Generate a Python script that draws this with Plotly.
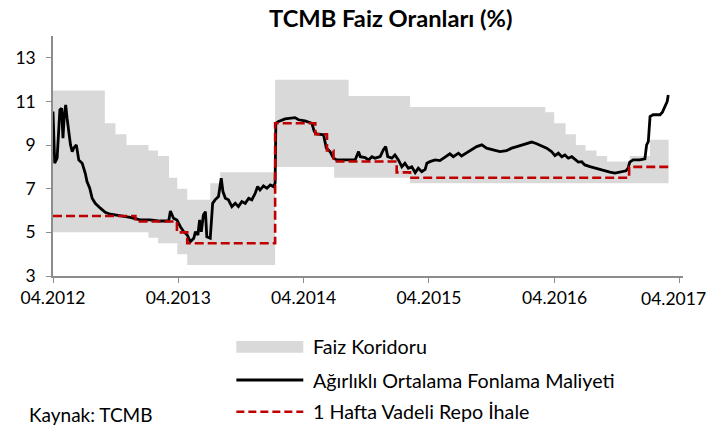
import plotly.graph_objects as go

# ---------------- DATA ----------------
# Faiz koridoru: step-change dates with upper (borrowing/lending) bounds
corr_dates = ["2012-04-01", "2012-08-30", "2012-09-30", "2012-11-01", "2013-01-04",
              "2013-02-01", "2013-03-05", "2013-03-29", "2013-04-27", "2013-07-03",
              "2013-08-01", "2014-01-08", "2014-06-29", "2014-08-10", "2015-02-05",
              "2016-03-05", "2016-03-31", "2016-05-03", "2016-06-02", "2016-06-30",
              "2016-08-01", "2016-09-01", "2016-11-06", "2017-01-04", "2017-02-27"]
corr_upper = [11.5, 10.0, 9.5, 9.0, 8.75,
              8.5, 7.5, 7.0, 6.5, 7.25,
              7.75, 12.0, 12.0, 11.25, 10.75,
              10.5, 10.0, 9.5, 9.0, 8.75,
              8.5, 8.25, 8.5, 9.25, 9.25]
corr_lower = [5.0, 5.0, 5.0, 5.0, 4.75,
              4.5, 4.5, 4.0, 3.5, 3.5,
              3.5, 8.0, 7.5, 7.5, 7.25,
              7.25, 7.25, 7.25, 7.25, 7.25,
              7.25, 7.25, 7.25, 7.25, 7.25]

# 1 Hafta Vadeli Repo İhale
repo_dates = ["2012-04-01", "2012-11-27", "2013-03-28", "2013-04-27", "2014-01-08",
              "2014-05-05", "2014-06-08", "2014-06-27", "2014-12-28", "2015-02-05",
              "2016-11-04", "2017-02-27"]
repo_vals = [5.75, 5.5, 5.0, 4.5, 10.0, 9.5, 8.75, 8.25, 7.75, 7.5, 8.0, 8.0]

# Ağırlıklı Ortalama Fonlama Maliyeti
aofm_dates = ["2012-04-01", "2012-04-06", "2012-04-13", "2012-04-21", "2012-04-26",
              "2012-04-30", "2012-05-04", "2012-05-08", "2012-05-12", "2012-05-17",
              "2012-05-22", "2012-05-27", "2012-05-31", "2012-06-08", "2012-06-15",
              "2012-06-25", "2012-07-04", "2012-07-09", "2012-07-17", "2012-07-24",
              "2012-08-02", "2012-08-17", "2012-08-31", "2012-09-15", "2012-10-14",
              "2012-11-12", "2012-12-11", "2013-01-09", "2013-02-07", "2013-03-04",
              "2013-03-09", "2013-03-18", "2013-03-28", "2013-04-07", "2013-04-17",
              "2013-04-27", "2013-05-06", "2013-05-16", "2013-05-21", "2013-05-28",
              "2013-06-02", "2013-06-07", "2013-06-13", "2013-06-19", "2013-06-23",
              "2013-07-03", "2013-07-10", "2013-07-17", "2013-07-27", "2013-08-04",
              "2013-08-09", "2013-08-16", "2013-08-25", "2013-09-04", "2013-09-14",
              "2013-09-23", "2013-10-03", "2013-10-13", "2013-10-23", "2013-11-01",
              "2013-11-11", "2013-11-18", "2013-11-25", "2013-12-05", "2013-12-15",
              "2013-12-25", "2014-01-03", "2014-01-08", "2014-01-10", "2014-01-18",
              "2014-02-06", "2014-02-21", "2014-03-07", "2014-03-17", "2014-04-05",
              "2014-04-25", "2014-05-02", "2014-05-09", "2014-05-29", "2014-06-06",
              "2014-06-17", "2014-06-27", "2014-07-07", "2014-07-31", "2014-08-29",
              "2014-09-08", "2014-09-13", "2014-09-27", "2014-10-07", "2014-10-17",
              "2014-10-26", "2014-11-10", "2014-11-19", "2014-11-26", "2014-12-02",
              "2014-12-14", "2014-12-23", "2015-01-02", "2015-01-12", "2015-01-21",
              "2015-01-31", "2015-02-10", "2015-02-20", "2015-03-01", "2015-03-11",
              "2015-03-21", "2015-03-26", "2015-04-04", "2015-04-19", "2015-05-03",
              "2015-05-18", "2015-06-01", "2015-06-11", "2015-06-26", "2015-07-05",
              "2015-07-20", "2015-08-04", "2015-08-18", "2015-09-02", "2015-09-16",
              "2015-10-05", "2015-10-25", "2015-11-13", "2015-11-28", "2015-12-13",
              "2015-12-27", "2016-01-11", "2016-01-25", "2016-02-09", "2016-02-28",
              "2016-03-09", "2016-03-23", "2016-04-02", "2016-04-12", "2016-04-22",
              "2016-05-01", "2016-05-11", "2016-05-21", "2016-05-31", "2016-06-09",
              "2016-06-19", "2016-06-28", "2016-07-13", "2016-07-28", "2016-08-11",
              "2016-08-26", "2016-09-09", "2016-09-24", "2016-10-08", "2016-10-26",
              "2016-11-01", "2016-11-06", "2016-11-16", "2016-12-05", "2016-12-20",
              "2016-12-25", "2016-12-30", "2017-01-04", "2017-01-13", "2017-02-02",
              "2017-02-09", "2017-02-16", "2017-02-23", "2017-02-26"]
aofm_vals = [10.54, 8.17, 8.40, 10.61, 10.69,
             9.32, 10.39, 10.84, 10.23, 9.47,
             9.01, 8.70, 8.86, 9.01, 8.32,
             8.17, 7.71, 7.33, 7.02, 6.56,
             6.33, 6.11, 5.92, 5.83, 5.77,
             5.69, 5.57, 5.57, 5.52, 5.52,
             5.98, 5.65, 5.57, 5.26, 5.03,
             4.88, 4.57, 4.73, 5.03, 4.88,
             5.57, 5.03, 5.80, 5.95, 4.80,
             4.73, 6.33, 6.49, 6.64, 7.48,
             6.87, 6.56, 6.49, 6.18, 6.33,
             6.18, 6.41, 6.33, 6.56, 6.49,
             6.79, 7.10, 6.94, 7.13, 7.02,
             7.17, 7.10, 7.25, 10.00, 10.08,
             10.20, 10.23, 10.26, 10.16, 10.11,
             10.00, 9.62, 9.51, 9.47, 8.86,
             8.70, 8.40, 8.32, 8.32, 8.32,
             8.70, 8.47, 8.43, 8.32, 8.47,
             8.40, 8.47, 8.78, 8.93, 8.47,
             8.40, 8.55, 8.32, 8.01, 8.17,
             7.94, 8.01, 7.74, 7.94, 7.78,
             7.89, 8.17, 8.24, 8.32, 8.29,
             8.47, 8.60, 8.47, 8.63, 8.50,
             8.66, 8.78, 8.93, 9.01, 8.86,
             8.78, 8.70, 8.75, 8.86, 8.93,
             9.01, 9.09, 9.14, 9.06, 8.95,
             8.86, 8.70, 8.52, 8.63, 8.47,
             8.55, 8.40, 8.47, 8.32, 8.22,
             8.24, 8.09, 8.01, 7.94, 7.86,
             7.82, 7.76, 7.72, 7.76, 7.82,
             7.94, 8.22, 8.32, 8.32, 8.37,
             9.01, 9.16, 10.31, 10.39, 10.39,
             10.51, 10.77, 11.00, 11.30]

x_ticks = ["2012-04-01", "2013-04-01", "2014-04-01", "2015-04-01", "2016-04-01", "2017-04-01"]
x_tick_text = ["04.2012", "04.2013", "04.2014", "04.2015", "04.2016", "04.2017"]
y_ticks = [3, 5, 7, 9, 11, 13]

title_text = "TCMB Faiz Oranları (%)"
legend_names = ["Faiz Koridoru", "Ağırlıklı Ortalama Fonlama Maliyeti", "1 Hafta Vadeli Repo İhale"]
source_text = "Kaynak: TCMB"

# ---------------- STYLE ----------------
FONT = "Lato"
BAND = "#d9d9d9"
RED = "#c00000"
AXIS = "#8c8c8c"
TICK_SIZE = 17.5

W, H = 709, 428
ML, MR, MT, MB = 52.5, 26, 36, 152
PW, PH = W - ML - MR, H - MT - MB


def px(xp):
    return (xp - ML) / PW


def py(yp):
    return (H - MB - yp) / PH


fig = go.Figure()
fig.add_trace(go.Scatter(x=corr_dates, y=corr_lower, mode="lines", line=dict(width=0, shape="hv"),
                         showlegend=False, hoverinfo="skip"))
fig.add_trace(go.Scatter(x=corr_dates, y=corr_upper, mode="lines", line=dict(width=0, shape="hv"),
                         fill="tonexty", fillcolor=BAND, name=legend_names[0], showlegend=False))
fig.add_trace(go.Scatter(x=aofm_dates, y=aofm_vals, mode="lines", line=dict(color="black", width=2.8),
                         name=legend_names[1], showlegend=False))
fig.add_trace(go.Scatter(x=repo_dates, y=repo_vals, mode="lines",
                         line=dict(color=RED, width=2.6, dash="9px,4px", shape="hv"),
                         name=legend_names[2], showlegend=False))

# custom legend
lx0, lx1, ltx = 236, 303, 311
rows = [346.7, 380, 411.7]
shapes = [
    dict(type="rect", xref="paper", yref="paper", x0=px(lx0), x1=px(lx1), y0=py(341), y1=py(352.7),
         fillcolor=BAND, line=dict(width=0)),
    dict(type="line", xref="paper", yref="paper", x0=px(lx0), x1=px(lx1), y0=py(rows[1]), y1=py(rows[1]),
         line=dict(color="black", width=2.8)),
    dict(type="line", xref="paper", yref="paper", x0=px(lx0), x1=px(lx1), y0=py(rows[2]), y1=py(rows[2]),
         line=dict(color=RED, width=2.6, dash="8px,4px")),
]
annotations = [
    dict(text=name, xref="paper", yref="paper", x=px(ltx), y=py(r), xanchor="left", yanchor="middle",
         showarrow=False, font=dict(family=FONT, size=19.7, color="black"))
    for name, r in zip(legend_names, rows)
]
annotations.append(dict(text=source_text, xref="paper", yref="paper", x=px(26), y=py(414),
                        xanchor="left", yanchor="middle", showarrow=False,
                        font=dict(family=FONT, size=19, color="black")))
annotations.append(dict(text="<b>" + title_text + "</b>", xref="paper", yref="paper", x=px(391), y=py(18),
                        xanchor="center", yanchor="middle", showarrow=False,
                        font=dict(family=FONT, size=23.7, color="black")))
# last x tick label sits inward of its tick, as in the source chart
annotations.append(dict(text=x_tick_text[-1], xref="paper", yref="paper", x=px(708), y=py(298),
                        xanchor="right", yanchor="middle", showarrow=False,
                        font=dict(family=FONT, size=TICK_SIZE, color="black")))

fig.update_layout(
    width=W, height=H,
    margin=dict(l=ML, r=MR, t=MT, b=MB),
    paper_bgcolor="white", plot_bgcolor="white",
    font=dict(family=FONT, size=19, color="black"),
    shapes=shapes, annotations=annotations,
    showlegend=False,
)
fig.update_xaxes(type="date", range=["2012-04-01", "2017-04-10"], tickvals=x_ticks,
                 ticktext=x_tick_text[:-1] + [""],
                 showgrid=False, zeroline=False, showline=True, linecolor=AXIS, linewidth=1.5,
                 ticks="outside", ticklen=5, tickcolor=AXIS, tickfont=dict(family=FONT, size=TICK_SIZE))
fig.update_yaxes(range=[3, 14], tickvals=y_ticks, showgrid=False, zeroline=False, showline=True,
                 linecolor=AXIS, linewidth=1.5, ticks="outside", ticklen=5, tickcolor=AXIS,
                 ticklabelstandoff=7, tickfont=dict(family=FONT, size=TICK_SIZE))

fig.write_html("out.html", post_script="document.body.style.margin='0';",
               config={"displayModeBar": False})
